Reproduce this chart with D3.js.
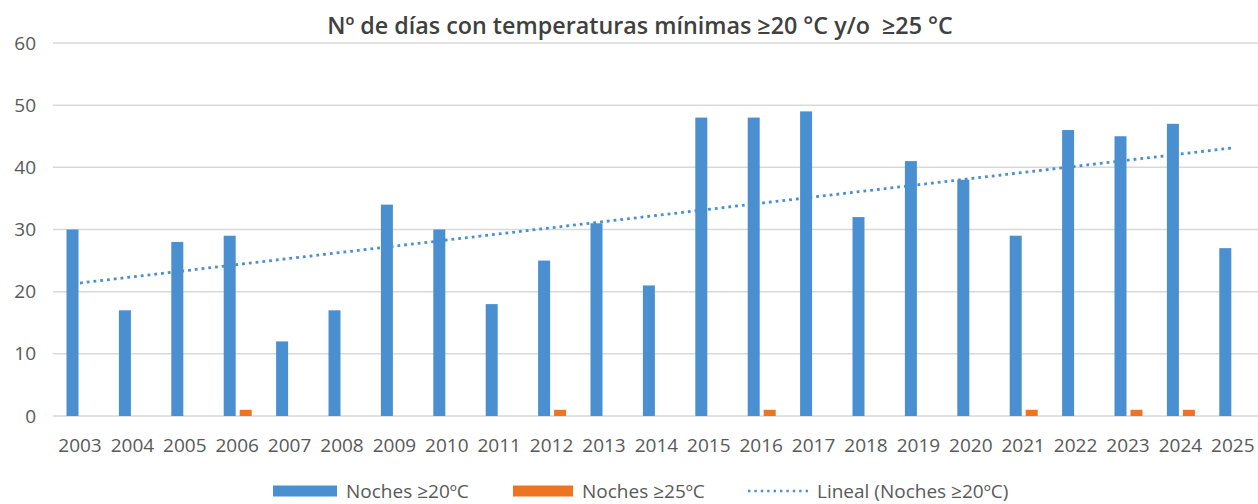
<!DOCTYPE html>
<html><head><meta charset="utf-8">
<script src="https://cdn.jsdelivr.net/npm/d3@7"></script>
<style>
html,body{margin:0;padding:0;background:#fff;}
svg{display:block;font-family:"Open Sans",sans-serif;}
</style></head>
<body>
<svg id="chart" width="1258" height="504"></svg>
<script>
const years = ["2003","2004","2005","2006","2007","2008","2009","2010","2011","2012","2013","2014","2015","2016","2017","2018","2019","2020","2021","2022","2023","2024","2025"];
const noches20 = [30,17,28,29,12,17,34,30,18,25,31,21,48,48,49,32,41,38,29,46,45,47,27];
const noches25 = [0,0,0,1,0,0,0,0,0,1,0,0,0,1,0,0,0,0,1,0,1,1,0];
const yTicks = [0,10,20,30,40,50,60];
const seriesNames = ["Noches ≥20ºC","Noches ≥25ºC"];
const trendName = "Lineal (Noches ≥20ºC)";
const titleText = "Nº de días con temperaturas mínimas ≥20 °C y/o  ≥25 °C";

const W = 1258, H = 504;
const colors = ["#4a8fd0","#ed7422"];
const svg = d3.select("#chart");

const x = d3.scaleBand().domain(years).range([53.8, 1259]).padding(0);
const sub = d3.scaleBand().domain([0,1]).range([-13.5, 14.5]).paddingInner(0.25);
const y = d3.scaleLinear().domain([0,60]).range([416,43]);

// gridlines
svg.append("g").selectAll("line").data(yTicks).join("line")
  .attr("x1", 53).attr("x2", W)
  .attr("y1", d => y(d)).attr("y2", d => y(d))
  .attr("stroke", "#d9d9d9").attr("stroke-width", 1.5);

// y axis labels
const yAxis = svg.append("g").attr("transform","translate(36,0)")
  .call(d3.axisLeft(y).tickValues(yTicks).tickSize(0).tickPadding(0));
yAxis.select(".domain").remove();
yAxis.selectAll("text").attr("font-size", 19).attr("fill", "#595959")
  .attr("font-family", "'Open Sans',sans-serif");

// x axis labels
const xAxis = svg.append("g").attr("transform","translate(0,416)")
  .call(d3.axisBottom(x).tickSize(0).tickPadding(23));
xAxis.select(".domain").remove();
xAxis.selectAll("text").attr("font-size", 19).attr("fill", "#595959")
  .attr("font-family", "'Open Sans',sans-serif");

// bars
const seriesData = [noches20, noches25];
seriesData.forEach((vals, si) => {
  svg.append("g").selectAll("rect").data(vals.map((v,i)=>({year:years[i], v})))
    .join("rect")
    .attr("x", d => x(d.year) + x.bandwidth()/2 + sub(si))
    .attr("width", sub.bandwidth())
    .attr("y", d => y(d.v))
    .attr("height", d => y(0) - y(d.v))
    .attr("fill", colors[si]);
});

// linear trend (least squares on series 1)
const n = noches20.length;
const idx = d3.range(n);
const mx = d3.mean(idx), my = d3.mean(noches20);
const slope = d3.sum(idx, i => (i-mx)*(noches20[i]-my)) / d3.sum(idx, i => (i-mx)*(i-mx));
const intercept = my - slope*mx;
const trendPts = [0, n-1].map(i => [x(years[i]) + x.bandwidth()/2, y(intercept + slope*i)]);
svg.append("path")
  .attr("d", d3.line()(trendPts))
  .attr("stroke", colors[0]).attr("stroke-width", 2.8)
  .attr("stroke-dasharray", "2.8,4").attr("fill","none");

// title
const title = svg.append("text")
  .attr("x", 640).attr("y", 34).attr("text-anchor","middle")
  .attr("font-weight", 600).attr("fill", "#404040")
  .style("white-space", "pre").attr("xml:space","preserve")
  .attr("font-size", 19).text(titleText);
const tw = title.node().getComputedTextLength();
title.attr("font-size", 19 * 626 / tw);

// legend
const lg = svg.append("g");
const legendY = 491;
const items = [
  {x:273, w:64, type:"rect", color:colors[0], label:seriesNames[0]},
  {x:513, w:60, type:"rect", color:colors[1], label:seriesNames[1]},
  {x:748, w:60, type:"line", color:colors[0], label:trendName}
];
items.forEach(it => {
  if (it.type === "rect") {
    lg.append("rect").attr("x", it.x).attr("y", legendY-5.5).attr("width", it.w).attr("height", 11).attr("fill", it.color);
  } else {
    lg.append("line").attr("x1", it.x).attr("x2", it.x+it.w).attr("y1", legendY).attr("y2", legendY)
      .attr("stroke", it.color).attr("stroke-width", 2.4).attr("stroke-dasharray","2.4,4");
  }
  lg.append("text").attr("x", it.x + it.w + 9).attr("y", legendY + 6.5)
    .attr("font-size", 19).attr("fill", "#595959").text(it.label);
});
</script>
</body></html>
